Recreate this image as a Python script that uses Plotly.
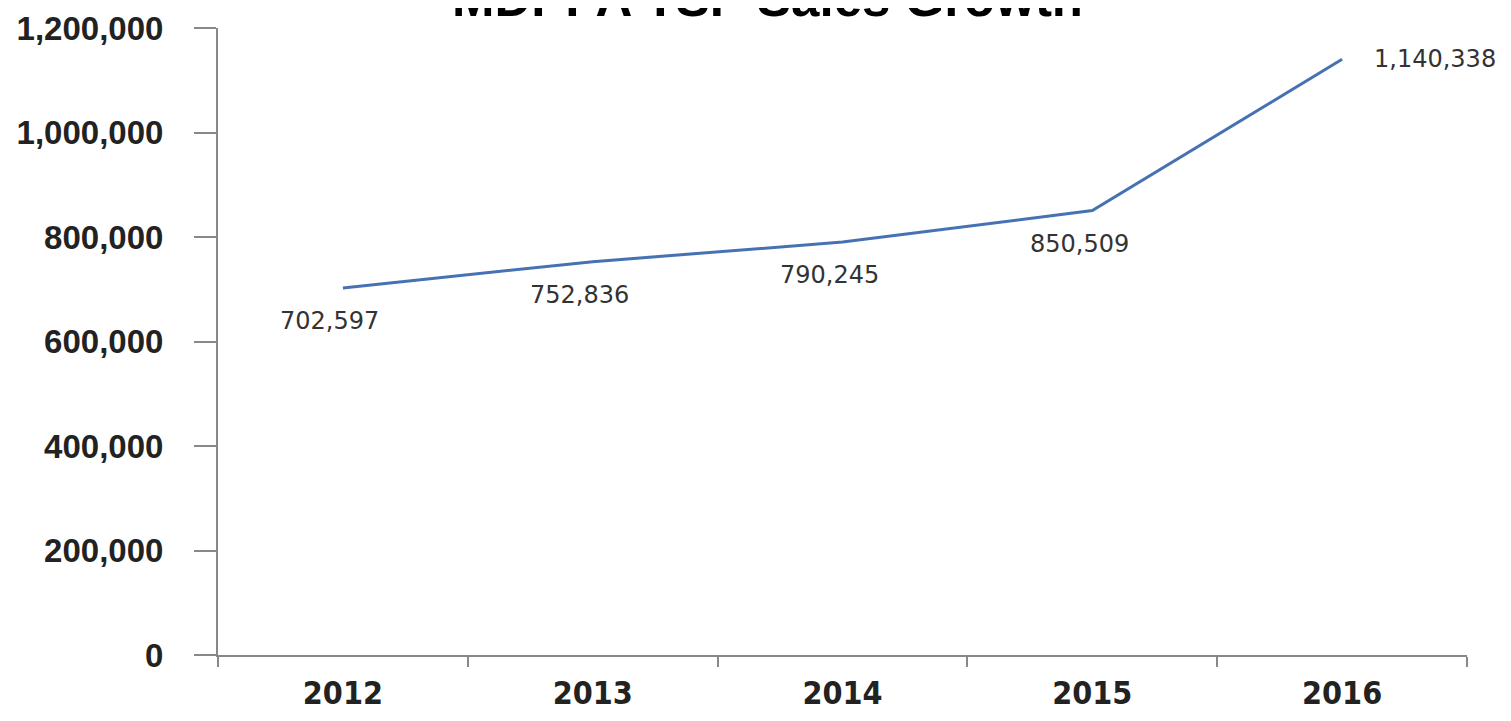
import plotly.graph_objects as go

years = ["2012", "2013", "2014", "2015", "2016"]
sales = [702597, 752836, 790245, 850509, 1140338]
label_text = ["702,597", "752,836", "790,245", "850,509", "1,140,338"]
y_ticks = [0, 200000, 400000, 600000, 800000, 1000000, 1200000]
y_tick_text = ["0", "200,000", "400,000", "600,000", "800,000", "1,000,000", "1,200,000"]
title = "MDPPA TSP Sales Growth"

fig = go.Figure()
fig.add_trace(go.Scatter(
    x=years, y=sales, mode="lines",
    line=dict(color="#4672b4", width=3),
    hoverinfo="x+y", showlegend=False,
))

annotations = []
for i, (v, t) in enumerate(zip(sales, label_text)):
    last = i == len(years) - 1
    annotations.append(dict(
        x=i, y=v, xref="x", yref="y", text=t, showarrow=False,
        font=dict(family="DejaVu Sans", size=24, color="#333333"),
        xanchor="left" if last else "center",
        yanchor="middle",
        xshift=30 if last else -13,
        yshift=0 if last else -33,
    ))
annotations.append(dict(
    x=0.4396, y=0.9984, xref="paper", yref="paper", text="<b>" + title + "</b>",
    showarrow=False, xanchor="center", yanchor="bottom",
    font=dict(family="Liberation Sans", size=51, color="#000000"),
))

fig.update_layout(
    width=1495, height=705,
    margin=dict(l=210, r=36, t=20, b=58, autoexpand=False),
    paper_bgcolor="white", plot_bgcolor="white",
    annotations=annotations,
    xaxis=dict(
        type="category", range=[-0.5, 4.5], tickson="boundaries",
        ticks="outside", ticklen=10, tickwidth=2, tickcolor="#888888",
        showline=True, linecolor="#888888", linewidth=2,
        showgrid=False, zeroline=False, automargin=False,
        ticklabelstandoff=9,
        tickfont=dict(family="DejaVu Sans Condensed, Liberation Sans", size=32,
                      color="#222222", weight="bold"),
    ),
    yaxis=dict(
        range=[0, 1200000], tickvals=y_ticks, ticktext=y_tick_text,
        ticks="outside", ticklen=22, tickwidth=2, tickcolor="#888888",
        showline=True, linecolor="#888888", linewidth=2,
        showgrid=False, zeroline=False, automargin=False,
        ticklabelstandoff=24,
        tickfont=dict(family="Liberation Sans", size=33, color="#222222", weight="bold"),
    ),
)

fig.write_html("out.html")
